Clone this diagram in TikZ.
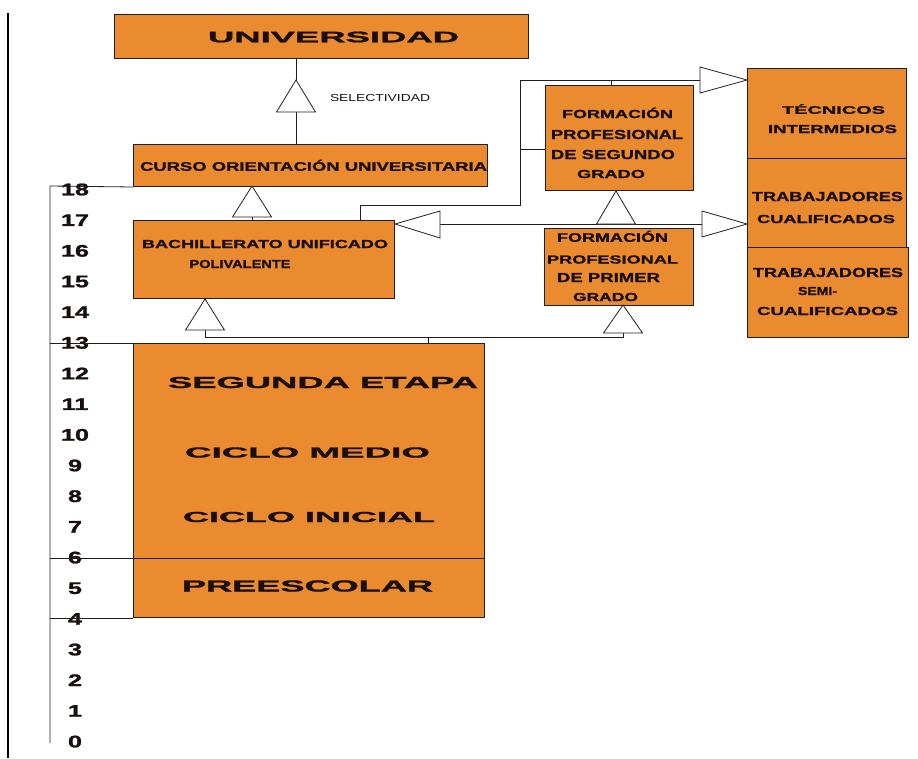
\documentclass[tikz,border=0pt]{standalone}
\usepackage{fontspec}
\setmainfont{Liberation Sans}[BoldFeatures={FakeBold=1.2}]
\usepackage{graphicx}
\definecolor{boxor}{RGB}{235,139,47}
\definecolor{txt}{RGB}{25,15,15}
\definecolor{ln}{RGB}{35,30,30}
\newcommand\fitlbl[3]{\resizebox{#1pt}{#2pt}{\smash{#3}\vphantom{X}}}
\newcommand\numlbl[1]{\scalebox{1.5}[1]{\fontsize{16.8}{17}\selectfont\bfseries #1}}
\begin{document}
\begin{tikzpicture}[x=1pt,y=-1pt,
  box/.style={draw=ln, line width=1pt, fill=boxor, inner sep=0pt, anchor=north west},
  lbl/.style={inner sep=0pt, text=txt, font=\bfseries},
  num/.style={inner sep=0pt, text=txt},
  conn/.style={draw=ln, line width=0.8pt},
  tri/.style={draw=ln, fill=white, line width=0.8pt, line join=miter}]

\useasboundingbox (0,0) rectangle (918,758);
\fill[white] (0,0) rectangle (918,758);

% page frame line
\draw[draw=black, line width=1.2pt] (8,13) -- (8,758);

% boxes
\node[box, minimum width=414pt, minimum height=44pt] (univ) at (114,14) {};
\node[box, minimum width=354pt, minimum height=42pt] (cou)  at (133,144) {};
\node[box, minimum width=261pt, minimum height=78pt] (bup)  at (133,220) {};
\node[box, minimum width=148pt, minimum height=105pt] (fp2) at (545,85) {};
\node[box, minimum width=149pt, minimum height=77pt] (fp1)  at (544,228) {};
\node[box, minimum width=351pt, minimum height=215pt] (egb) at (133,343) {};
\node[box, minimum width=351pt, minimum height=59pt] (pre)  at (133,558) {};
\node[box, minimum width=159pt, minimum height=90pt] (ti)   at (747,68) {};
\node[box, minimum width=159pt, minimum height=89pt] (tc)   at (747,158) {};
\node[box, minimum width=161pt, minimum height=90pt] (ts)   at (747,247) {};

% labels
\node[lbl] (tUniv) at (333.5,37) {\fitlbl{251}{10.5}{UNIVERSIDAD}};
\node[lbl] (tSel) at (380,97.5) {\fitlbl{100}{7}{\mdseries SELECTIVIDAD}};
\node[lbl] (tCou) at (313.5,166.5) {\fitlbl{347}{8.5}{CURSO ORIENTACIÓN UNIVERSITARIA}};
\node[lbl] (tBup1) at (265,244) {\fitlbl{246}{8}{BACHILLERATO UNIFICADO}};
\node[lbl] (tBup2) at (240,264) {\fitlbl{101}{8}{POLIVALENTE}};

\node[lbl] (tF2a) at (617.5,114) {\fitlbl{111}{8}{FORMACIÓN}};
\node[lbl] (tF2b) at (617,134.5) {\fitlbl{132}{9}{PROFESIONAL}};
\node[lbl] (tF2c) at (613,154.5) {\fitlbl{124}{9}{DE SEGUNDO}};
\node[lbl] (tF2d) at (611,174) {\fitlbl{68}{8}{GRADO}};

\node[lbl] (tF1a) at (612.5,237.5) {\fitlbl{111}{8.5}{FORMACIÓN}};
\node[lbl] (tF1b) at (612.5,259.5) {\fitlbl{131}{8}{PROFESIONAL}};
\node[lbl] (tF1c) at (608.5,277.5) {\fitlbl{103}{9}{DE PRIMER}};
\node[lbl] (tF1d) at (605.5,297) {\fitlbl{65}{8}{GRADO}};

\node[lbl] (tTi1) at (833.5,110) {\fitlbl{103}{7.5}{TÉCNICOS}};
\node[lbl] (tTi2) at (832.5,129) {\fitlbl{129}{8}{INTERMEDIOS}};
\node[lbl] (tTc1) at (827.5,196.5) {\fitlbl{151}{9}{TRABAJADORES}};
\node[lbl] (tTc2) at (826,219) {\fitlbl{138}{8}{CUALIFICADOS}};
\node[lbl] (tTs1) at (828,272.5) {\fitlbl{150}{9}{TRABAJADORES}};
\node[lbl] (tTs2) at (817.5,291) {\fitlbl{39}{8}{SEMI-}};
\node[lbl] (tTs3) at (827.5,311) {\fitlbl{141}{8}{CUALIFICADOS}};

\node[lbl] (tEgb1) at (323,382.5) {\fitlbl{310}{11}{SEGUNDA ETAPA}};
\node[lbl] (tEgb2) at (307.5,452.5) {\fitlbl{245}{10}{CICLO MEDIO}};
\node[lbl] (tEgb3) at (309,517) {\fitlbl{252}{10}{CICLO INICIAL}};
\node[lbl] (tPre) at (307.5,586) {\fitlbl{251}{11}{PREESCOLAR}};

% age axis
\foreach \n in {0,...,18}
  \node[num] (y\n) at (75,{189.5+30.67*(18-\n)}) {\numlbl{\n}};
\coordinate (axTop) at (50,186);
\coordinate (axBot) at (50,743);
\draw[conn] (axBot) -- (axTop) -- (cou.south west);
\draw[conn] (egb.north west -| axTop) -- (egb.north west);
\draw[conn] (pre.north west -| axTop) -- (pre.north west);
\draw[conn] (pre.south west -| axTop) -- (pre.south west);

% SELECTIVIDAD: COU -> Universidad
\coordinate (s1a) at (296,80);
\coordinate (s1b) at (296,112);
\draw[conn] (s1a |- univ.south) -- (s1a);
\draw[conn] (s1b) -- (s1b |- cou.north);
\draw[tri] (s1a) -- ++(19.5,32) -- ++(-39,0) -- cycle;

% BUP -> COU
\coordinate (s2a) at (252,186);
\coordinate (s2b) at (252,217);
\draw[conn] (s2b) -- (s2b |- bup.north);
\draw[tri] (s2a) -- ++(19.5,31) -- ++(-39,0) -- cycle;

% EGB -> BUP and EGB -> FP1
\coordinate (s3a) at (205,299);
\coordinate (s3b) at (205,330);
\coordinate (s4a) at (623,305);
\coordinate (s4b) at (623,333);
\coordinate (j1) at (428,337);
\draw[conn] (s3b) -- (s3b |- j1) -- (s4b |- j1) -- (s4b);
\draw[conn] (j1) -- (j1 |- egb.north);
\draw[tri] (s3a) -- ++(19.5,31) -- ++(-39,0) -- cycle;
\draw[tri] (s4a) -- ++(19.5,28) -- ++(-39,0) -- cycle;

% FP1 -> FP2, BUP, trabajadores cualificados
\coordinate (s5a) at (616,191);
\coordinate (s5b) at (616,224);
\coordinate (l1) at (440,224);
\coordinate (r1) at (702,224);
\draw[conn] (l1) -- (r1);
\draw[tri] (s5a) -- ++(19.5,33) -- ++(-39,0) -- cycle;
\draw[tri] (bup.east |- l1) -- (440,211) -- (440,238) -- cycle;
\draw[tri] (r1) ++(0,-13) -- (tc.west |- r1) -- (702,237) -- cycle;

% BUP / FP2 -> tecnicos intermedios
\coordinate (k0) at (360,205);
\coordinate (k1) at (520,149);
\coordinate (k2) at (611,80);
\coordinate (r2) at (700,80);
\draw[conn] (k0 |- bup.north) -- (k0) -- (k0 -| k1) -- (k1 |- r2) -- (r2);
\draw[conn] (k1) -- (k1 -| fp2.west);
\draw[conn] (k2) -- (k2 |- fp2.north);
\draw[tri] (700,67) -- (ti.west |- r2) -- (700,93) -- cycle;
\end{tikzpicture}
\end{document}
